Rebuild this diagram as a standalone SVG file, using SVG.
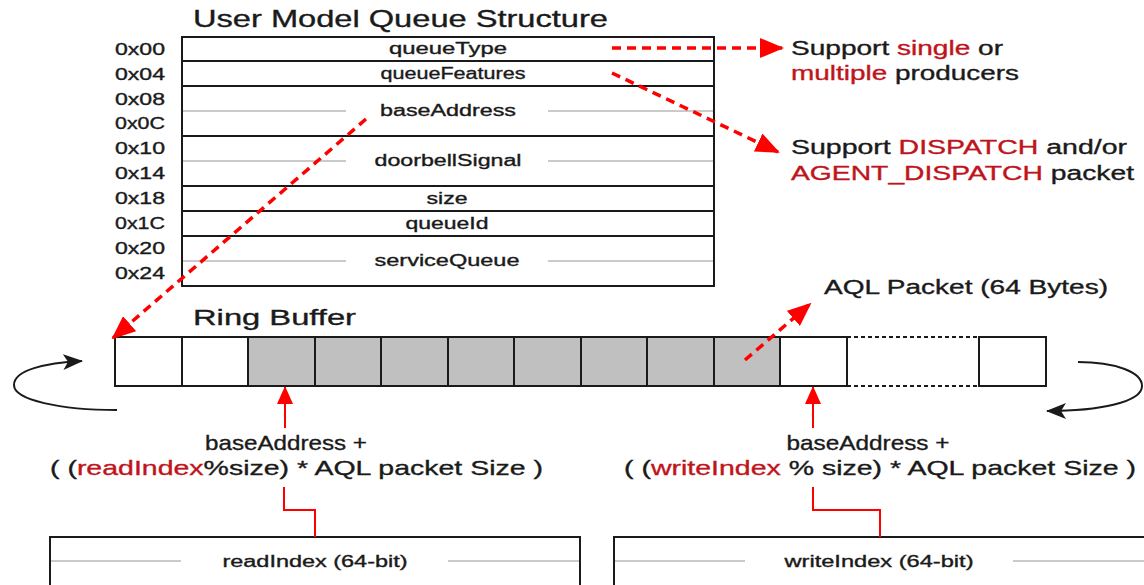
<svg xmlns="http://www.w3.org/2000/svg" width="1144" height="585" viewBox="0 0 1144 585">
<style>
text{font-family:"Liberation Sans",Arial,sans-serif;fill:#1a1a1a;stroke:#1a1a1a;stroke-width:0.35}
.off{font-size:16px;text-anchor:end}
.fld{font-size:16px;text-anchor:middle}
.big{font-size:20px}
.fx{font-size:21px}
.red{fill:#c0141c;stroke:#c0141c}
.box{fill:#fff;stroke:#1a1a1a;stroke-width:2}
.row{stroke:#1a1a1a;stroke-width:2}
.mid{stroke:#b8b8b8;stroke-width:1.5}
.cell{fill:#fff;stroke:#1a1a1a;stroke-width:2}
.full{fill:#c0c0c0;stroke:#1a1a1a;stroke-width:2}
.dash{stroke:#f00;stroke-width:3.5;stroke-dasharray:9,6;fill:none}
.solid{stroke:#f00;stroke-width:2;fill:none}
.curve{stroke:#1a1a1a;stroke-width:2;fill:none}
</style>
<defs>
<marker id="ra" markerUnits="userSpaceOnUse" markerWidth="24" markerHeight="20" viewBox="0 0 24 20" refX="22" refY="10" orient="auto"><path d="M0,0 L24,10 L0,20 Z" fill="#f00"/></marker>
<marker id="rs" markerUnits="userSpaceOnUse" markerWidth="18" markerHeight="16" viewBox="0 0 18 16" refX="17" refY="8" orient="auto"><path d="M0,0 L18,8 L0,16 Z" fill="#f00"/></marker>
<marker id="ka" markerUnits="userSpaceOnUse" markerWidth="20" markerHeight="16" viewBox="0 0 20 16" refX="19" refY="8" orient="auto"><path d="M0,0 L20,8 L0,16 L5,8 Z" fill="#1a1a1a"/></marker>
</defs>

<g id="title"><text x="193" y="27" font-size="24" textLength="415" lengthAdjust="spacingAndGlyphs">User Model Queue Structure</text></g>

<g id="offsets">
<text class="off" x="165" y="55" textLength="50" lengthAdjust="spacingAndGlyphs">0x00</text>
<text class="off" x="165" y="80" textLength="50" lengthAdjust="spacingAndGlyphs">0x04</text>
<text class="off" x="165" y="105" textLength="50" lengthAdjust="spacingAndGlyphs">0x08</text>
<text class="off" x="165" y="129" textLength="50" lengthAdjust="spacingAndGlyphs">0x0C</text>
<text class="off" x="165" y="154" textLength="50" lengthAdjust="spacingAndGlyphs">0x10</text>
<text class="off" x="165" y="179" textLength="50" lengthAdjust="spacingAndGlyphs">0x14</text>
<text class="off" x="165" y="204" textLength="50" lengthAdjust="spacingAndGlyphs">0x18</text>
<text class="off" x="165" y="229" textLength="50" lengthAdjust="spacingAndGlyphs">0x1C</text>
<text class="off" x="165" y="254" textLength="50" lengthAdjust="spacingAndGlyphs">0x20</text>
<text class="off" x="165" y="279" textLength="50" lengthAdjust="spacingAndGlyphs">0x24</text>
</g>

<g id="queue-structure">
<rect class="box" x="182" y="37" width="532" height="249"/>
<line class="row" x1="182" y1="61" x2="714" y2="61"/>
<line class="row" x1="182" y1="86" x2="714" y2="86"/>
<line class="row" x1="182" y1="136" x2="714" y2="136"/>
<line class="row" x1="182" y1="186" x2="714" y2="186"/>
<line class="row" x1="182" y1="211" x2="714" y2="211"/>
<line class="row" x1="182" y1="236" x2="714" y2="236"/>
<line class="mid" x1="183" y1="111" x2="346" y2="111"/><line class="mid" x1="548" y1="111" x2="713" y2="111"/>
<line class="mid" x1="183" y1="161" x2="346" y2="161"/><line class="mid" x1="548" y1="161" x2="713" y2="161"/>
<line class="mid" x1="183" y1="261" x2="346" y2="261"/><line class="mid" x1="548" y1="261" x2="713" y2="261"/>
<text class="fld" x="448" y="54" textLength="118" lengthAdjust="spacingAndGlyphs">queueType</text>
<text class="fld" x="453" y="79" textLength="145" lengthAdjust="spacingAndGlyphs">queueFeatures</text>
<text class="fld" x="448" y="116" textLength="136" lengthAdjust="spacingAndGlyphs">baseAddress</text>
<text class="fld" x="448" y="166" textLength="147" lengthAdjust="spacingAndGlyphs">doorbellSignal</text>
<text class="fld" x="447" y="204" textLength="41" lengthAdjust="spacingAndGlyphs">size</text>
<text class="fld" x="447" y="229" textLength="83" lengthAdjust="spacingAndGlyphs">queueId</text>
<text class="fld" x="447" y="266" textLength="145" lengthAdjust="spacingAndGlyphs">serviceQueue</text>
</g>

<g id="producers-note">
<text class="big" x="791" y="55" textLength="212" lengthAdjust="spacingAndGlyphs">Support <tspan class="red">single</tspan> or</text>
<text class="big" x="791" y="80" textLength="228" lengthAdjust="spacingAndGlyphs"><tspan class="red">multiple</tspan> producers</text>
</g>
<g id="dispatch-note">
<text class="big" x="791" y="154" textLength="336" lengthAdjust="spacingAndGlyphs">Support <tspan class="red">DISPATCH</tspan> and/or</text>
<text class="big" x="791" y="180" textLength="343" lengthAdjust="spacingAndGlyphs"><tspan class="red">AGENT_DISPATCH</tspan> packet</text>
</g>

<g id="aql-label"><text class="big" x="824" y="294" textLength="284" lengthAdjust="spacingAndGlyphs">AQL Packet (64 Bytes)</text></g>

<g id="ring-buffer">
<text x="193" y="325" font-size="22" textLength="163" lengthAdjust="spacingAndGlyphs">Ring Buffer</text>
<rect class="cell" x="115" y="337" width="67" height="49"/>
<rect class="cell" x="182" y="337" width="66" height="49"/>
<rect class="full" x="248" y="337" width="67" height="49"/>
<rect class="full" x="315" y="337" width="66" height="49"/>
<rect class="full" x="381" y="337" width="67" height="49"/>
<rect class="full" x="448" y="337" width="66" height="49"/>
<rect class="full" x="514" y="337" width="67" height="49"/>
<rect class="full" x="581" y="337" width="66" height="49"/>
<rect class="full" x="647" y="337" width="67" height="49"/>
<rect class="full" x="714" y="337" width="66" height="49"/>
<rect class="cell" x="780" y="337" width="67" height="49"/>
<line x1="847" y1="337" x2="979" y2="337" stroke="#1a1a1a" stroke-width="2" stroke-dasharray="4,3"/>
<line x1="847" y1="386" x2="979" y2="386" stroke="#1a1a1a" stroke-width="2" stroke-dasharray="4,3"/>
<rect class="cell" x="979" y="337" width="67" height="49"/>
</g>

<g id="read-formula">
<text class="fx" x="286" y="450" text-anchor="middle" textLength="162" lengthAdjust="spacingAndGlyphs">baseAddress +</text>
<text class="fx" x="50" y="475" textLength="493" lengthAdjust="spacingAndGlyphs">( (<tspan class="red">readIndex</tspan>%size) * AQL packet Size )</text>
</g>
<g id="write-formula">
<text class="fx" x="868" y="450" text-anchor="middle" textLength="163" lengthAdjust="spacingAndGlyphs">baseAddress +</text>
<text class="fx" x="624" y="475" textLength="512" lengthAdjust="spacingAndGlyphs">( (<tspan class="red">writeIndex</tspan> % size) * AQL packet Size )</text>
</g>

<g id="read-index">
<rect class="box" x="50" y="537" width="530" height="70"/>
<line class="mid" x1="51" y1="561" x2="181" y2="561"/><line class="mid" x1="448" y1="561" x2="579" y2="561"/>
<text class="fld" x="315" y="567" font-size="16" textLength="185" lengthAdjust="spacingAndGlyphs">readIndex (64-bit)</text>
</g>
<g id="write-index">
<rect class="box" x="614" y="537" width="540" height="70"/>
<line class="mid" x1="615" y1="561" x2="745" y2="561"/><line class="mid" x1="1013" y1="561" x2="1144" y2="561"/>
<text class="fld" x="879" y="567" font-size="16" textLength="189" lengthAdjust="spacingAndGlyphs">writeIndex (64-bit)</text>
</g>

<g id="connectors">
<line class="dash" x1="612" y1="48" x2="782" y2="48" marker-end="url(#ra)"/>
<line class="dash" x1="612" y1="73" x2="778" y2="152" marker-end="url(#ra)"/>
<line class="dash" x1="366" y1="119" x2="113" y2="338" marker-end="url(#ra)"/>
<line class="dash" x1="745" y1="360" x2="810" y2="304" marker-end="url(#ra)"/>
<line class="solid" x1="285" y1="428" x2="285" y2="387" marker-end="url(#rs)"/>
<line class="solid" x1="813" y1="428" x2="813" y2="387" marker-end="url(#rs)"/>
<polyline class="solid" points="284,487 284,510 315,510 315,537"/>
<polyline class="solid" points="813,487 813,510 880,510 880,537"/>
<path class="curve" d="M117,410 C60,410 14,400 14,385 C14,370 45,363 82,361" marker-end="url(#ka)"/>
<path class="curve" d="M1078,362 C1115,362 1142,372 1142,386 C1142,402 1100,411 1047,411" marker-end="url(#ka)"/>
</g>
</svg>
